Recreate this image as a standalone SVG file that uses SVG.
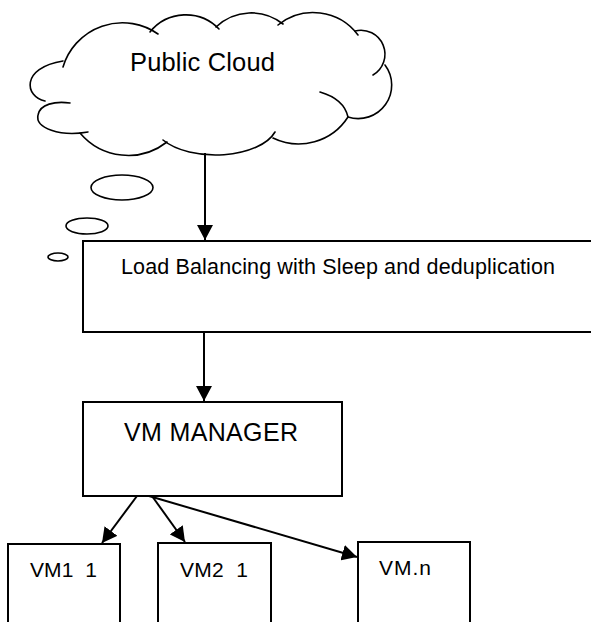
<svg xmlns="http://www.w3.org/2000/svg" width="591" height="622" viewBox="0 0 591 622">
<style>
.ln{fill:none;stroke:#000;stroke-width:1.6;stroke-linecap:round}
.bx{fill:#fff;stroke:#000;stroke-width:2}
.cn{fill:none;stroke:#000;stroke-width:2}
.t{font-family:"Liberation Sans",Arial,sans-serif;fill:#000;white-space:pre}
</style>
<defs>
<marker id="ah" markerUnits="userSpaceOnUse" markerWidth="16" markerHeight="16" refX="15" refY="8" orient="auto">
<path d="M0,0 L15,8 L0,16 z" fill="#000"/>
</marker>
</defs>
<rect width="591" height="622" fill="#fff"/>
<g id="cloud">
<path class="ln" d="M63,67 A62,62 0 0 1 158,34"/>
<path class="ln" d="M150,32 A46,46 0 0 1 219,29"/>
<path class="ln" d="M216,27 A51,51 0 0 1 283,24"/>
<path class="ln" d="M278,25 A56,56 0 0 1 358,35"/>
<path class="ln" d="M355,31 A24,24 0 0 1 373,75"/>
<path class="ln" d="M385,65 A33.5,33.5 0 0 1 348,117"/>
<path class="ln" d="M320,92 Q344,99 348,117 A58.6,58.6 0 0 1 273,138"/>
<path class="ln" d="M275,132 A62,32 0 0 1 163,140"/>
<path class="ln" d="M167,142 A63,63 0 0 1 80,133"/>
<path class="ln" d="M88,132 C60,137 35,128 38,115 C40,104 55,101 70,103"/>
<path class="ln" d="M45,101 C25,97 20,68 63,61"/>
<text class="t" x="130" y="71" font-size="25.5" textLength="145">Public Cloud</text>
</g>
<g id="thought">
<ellipse class="ln" cx="122" cy="187.5" rx="31" ry="12.5"/>
<ellipse class="ln" cx="87" cy="226" rx="21" ry="8"/>
<ellipse class="ln" cx="58" cy="257" rx="10" ry="4"/>
</g>
<g id="loadbalancer">
<rect class="bx" x="83" y="241" width="520" height="91"/>
<text class="t" x="121" y="274" font-size="21.5" textLength="434">Load Balancing with Sleep and deduplication</text>
</g>
<g id="vmmanager">
<rect class="bx" x="83" y="402" width="259" height="94"/>
<text class="t" x="124" y="441" font-size="25" textLength="174">VM MANAGER</text>
</g>
<g id="vm1">
<rect class="bx" x="8" y="544" width="112" height="90"/>
<text class="t" x="30" y="577" font-size="21" textLength="67">VM1  1</text>
</g>
<g id="vm2">
<rect class="bx" x="158" y="543" width="113" height="90"/>
<text class="t" x="180" y="577" font-size="21" textLength="68">VM2  1</text>
</g>
<g id="vmn">
<rect class="bx" x="358" y="542" width="112" height="90"/>
<text class="t" x="379" y="575" font-size="21" textLength="52">VM.n</text>
</g>
<g id="connectors">
<line class="cn" x1="205" y1="153" x2="205" y2="240" marker-end="url(#ah)"/>
<line class="cn" x1="204" y1="332" x2="204" y2="401" marker-end="url(#ah)"/>
<line class="cn" x1="137" y1="496" x2="102" y2="543" marker-end="url(#ah)"/>
<line class="cn" x1="152" y1="496" x2="185" y2="542" marker-end="url(#ah)"/>
<line class="cn" x1="149" y1="496" x2="357" y2="557" marker-end="url(#ah)"/>
</g>
</svg>
